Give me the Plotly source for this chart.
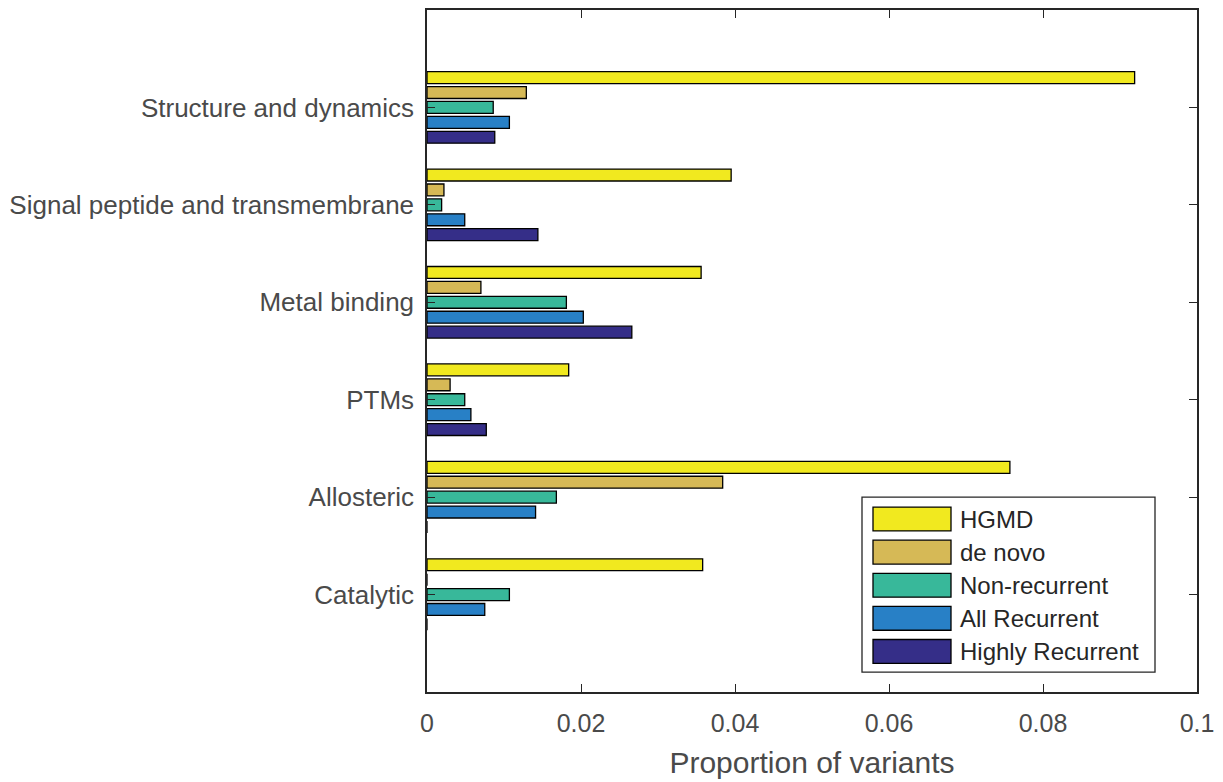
import plotly.graph_objects as go

categories = ["Structure and dynamics", "Signal peptide and transmembrane",
              "Metal binding", "PTMs", "Allosteric", "Catalytic"]
series_names = ["HGMD", "de novo", "Non-recurrent", "All Recurrent", "Highly Recurrent"]
hgmd = [0.0919, 0.0395, 0.0356, 0.0184, 0.0757, 0.0358]
de_novo = [0.0129, 0.0022, 0.0070, 0.0030, 0.0384, 0.0]
non_recurrent = [0.0086, 0.0019, 0.0181, 0.0049, 0.0168, 0.0107]
all_recurrent = [0.0107, 0.0049, 0.0203, 0.0057, 0.0141, 0.0075]
highly_recurrent = [0.0088, 0.0144, 0.0266, 0.0077, 0.0, 0.0]
x_ticks = [0, 0.02, 0.04, 0.06, 0.08, 0.1]
x_tick_labels = ["0", "0.02", "0.04", "0.06", "0.08", "0.1"]

colors = ["#F1E91F", "#D6B956", "#38B89A", "#2880C6", "#352E88"]
values = [hgmd, de_novo, non_recurrent, all_recurrent, highly_recurrent]

# numeric positions: top category highest
ypos = [len(categories) - i for i in range(len(categories))]

fig = go.Figure()
# add in reverse so HGMD ends up on top of each group
for name, vals, col in reversed(list(zip(series_names, values, colors))):
    fig.add_trace(go.Bar(
        x=vals, y=ypos, orientation="h", name=name,
        marker=dict(color=col, line=dict(color="black", width=1.3)),
        showlegend=False,
    ))

axis_col = "#262626"
text_col = "#4a4a4a"
font_family = "Liberation Sans, Arial, Helvetica, sans-serif"

fig.update_layout(
    width=1223, height=782,
    margin=dict(l=427, r=26, t=8, b=88),
    paper_bgcolor="white", plot_bgcolor="white",
    barmode="group", bargap=0.235, bargroupgap=0.2,
    font=dict(family=font_family, color=text_col),
)
fig.update_xaxes(
    range=[0, 0.1], tickvals=x_ticks, ticktext=x_tick_labels,
    ticks="inside", ticklen=8, tickwidth=1.3, tickcolor=axis_col,
    showline=True, linecolor=axis_col, linewidth=1.5, mirror="ticks",
    showgrid=False, zeroline=False,
    tickfont=dict(size=25, color=text_col), ticklabelstandoff=8,
    title=dict(text="Proportion of variants", font=dict(size=30, color=text_col), standoff=16),
)
fig.update_yaxes(
    range=[0, len(categories) + 1], tickvals=ypos, ticktext=categories,
    ticks="inside", ticklen=8, tickwidth=1.3, tickcolor=axis_col,
    showline=True, linecolor=axis_col, linewidth=1.5, mirror="ticks",
    showgrid=False, zeroline=False,
    tickfont=dict(size=26, color=text_col), ticklabelstandoff=6,
)

# custom legend box (MATLAB style large swatches)
W, H = 770.0, 686.0
def px(xp):
    return (xp - 427) / W
def py(yp):
    return (694 - yp) / H

shapes = [dict(type="rect", xref="paper", yref="paper",
               x0=px(862), x1=px(1155), y0=py(674), y1=py(498),
               line=dict(color=axis_col, width=1.3), fillcolor="white", layer="above")]
annotations = []
for i, (name, col) in enumerate(zip(series_names, colors)):
    cy = 520 + i * 33.3
    shapes.append(dict(type="rect", xref="paper", yref="paper",
                       x0=px(873), x1=px(951), y0=py(cy + 12), y1=py(cy - 12),
                       line=dict(color="black", width=1.3), fillcolor=col, layer="above"))
    annotations.append(dict(xref="paper", yref="paper", x=px(958), y=py(cy),
                            text=name, showarrow=False, xanchor="left", yanchor="middle",
                            font=dict(size=24, color="#262626", family=font_family)))
fig.update_layout(shapes=shapes, annotations=annotations)

fig.write_html("out.html", config={"displayModeBar": False})
with open("out.html", "r", encoding="utf-8") as f:
    html = f.read()
html = html.replace("<head>", "<head><style>html,body{margin:0;padding:0;overflow:hidden;}</style>", 1)
with open("out.html", "w", encoding="utf-8") as f:
    f.write(html)
